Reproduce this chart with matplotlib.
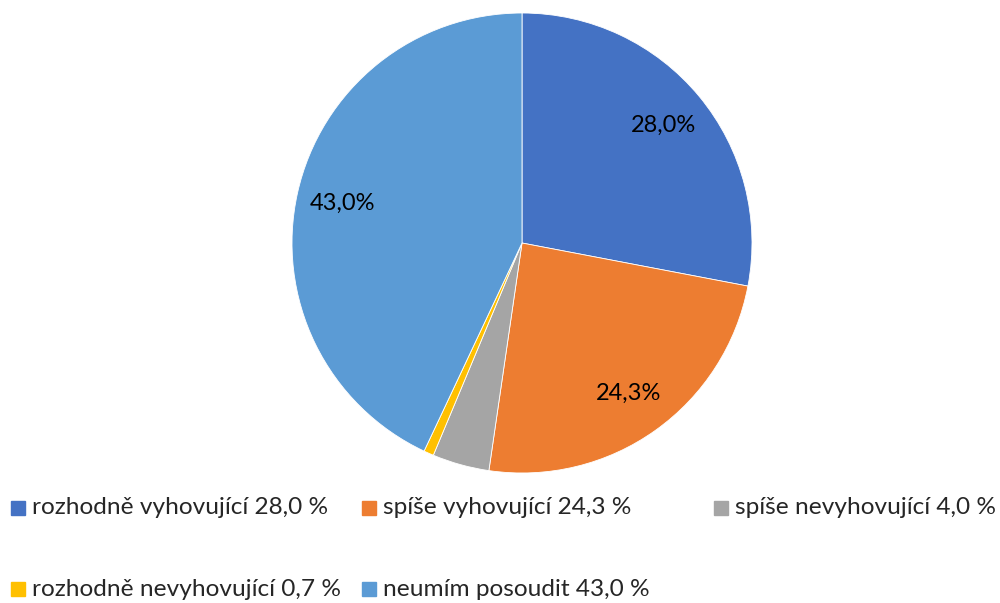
import matplotlib.pyplot as plt
from matplotlib.patches import Rectangle

plt.rcParams['font.family'] = ['Lato', 'DejaVu Sans']

kategorie = ['rozhodně vyhovující', 'spíše vyhovující', 'spíše nevyhovující',
             'rozhodně nevyhovující', 'neumím posoudit']
hodnoty = [28.0, 24.3, 4.0, 0.7, 43.0]
barvy = ['#4472C4', '#ED7D31', '#A5A5A5', '#FFC000', '#5B9BD5']

def fmt(p):
    # popisky jen u velkych vysecu
    if p < 10:
        return ''
    return ('%.1f%%' % p).replace('.', ',')

fig = plt.figure(figsize=(10, 6.03), dpi=100)
ax = fig.add_axes([292 / 1000, 1 - 473 / 603, 460 / 1000, 460 / 603])
ax.pie(hodnoty, colors=barvy, startangle=90, counterclock=False,
       autopct=fmt, pctdistance=0.8,
       textprops={'fontsize': 17, 'color': 'black'},
       wedgeprops={'linewidth': 0.6, 'edgecolor': 'white'})
ax.set_xlim(-1, 1)
ax.set_ylim(-1, 1)
ax.set_aspect('equal')

# legenda ve dvou radcich
sloupce = [11, 362, 714]
radky = [508, 589]
for i, (k, h, c) in enumerate(zip(kategorie, hodnoty, barvy)):
    x = sloupce[i % 3]
    y = radky[i // 3]
    fig.add_artist(Rectangle((x / 1000, 1 - (y + 7) / 603), 14 / 1000, 14 / 603,
                             transform=fig.transFigure, color=c))
    txt = k + ' ' + ('%.1f' % h).replace('.', ',') + ' %'
    fig.text((x + 21) / 1000, 1 - y / 603, txt, fontsize=17.6, color='#262626',
             va='center', ha='left')

fig.savefig('out.png', dpi=100)
